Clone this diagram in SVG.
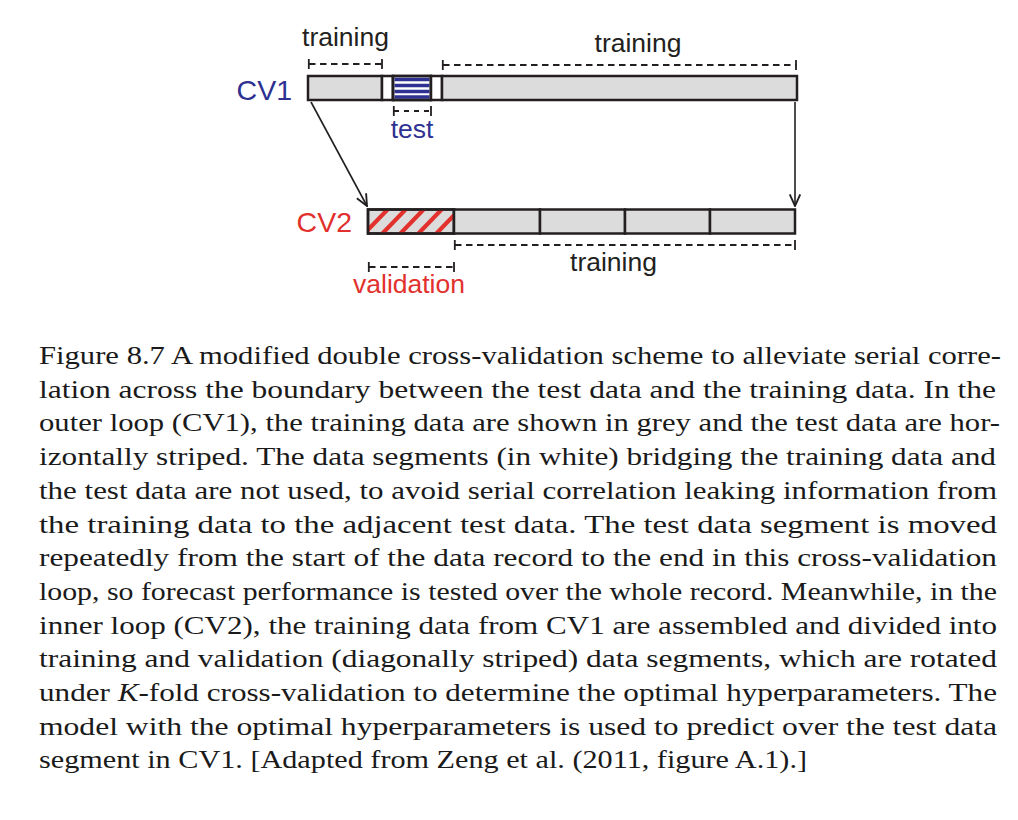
<svg xmlns="http://www.w3.org/2000/svg" width="1018" height="820" viewBox="0 0 1018 820">
<style>
.bar{fill:#dcdcdc;stroke:#231f20;stroke-width:2.5}
.white{fill:#ffffff;stroke:#231f20;stroke-width:2.5}
.lbl{font-family:"Liberation Sans",Arial,Helvetica,sans-serif;font-size:26.5px;fill:#231f20}
.big{font-family:"Liberation Sans",Arial,Helvetica,sans-serif;font-size:28.5px}
.blue{fill:#2e3192}
.red{fill:#e2312d}
.dash{stroke:#231f20;stroke-width:1.8;stroke-dasharray:6.5 4.5;fill:none}
.tick{stroke:#231f20;stroke-width:1.8;fill:none}
.conn{stroke:#231f20;stroke-width:1.6;fill:none}
.cap{font-family:"Liberation Serif","Times New Roman",serif;font-size:25px;fill:#1a1a1a}
</style>
<defs>
<marker id="arr" markerUnits="userSpaceOnUse" markerWidth="14" markerHeight="14" viewBox="0 0 12 12" refX="11" refY="6" orient="auto">
<path d="M1,1.5 L11,6 L1,10.5" fill="none" stroke="#231f20" stroke-width="1.6"/>
</marker>
<clipPath id="valclip"><rect x="368" y="209.5" width="86" height="24"/></clipPath>
</defs>

<g id="connectors">
<line class="conn" x1="311" y1="102" x2="367" y2="206" marker-end="url(#arr)"/>
<line class="conn" x1="795" y1="102" x2="795" y2="206" marker-end="url(#arr)"/>
</g>

<g id="cv1">
<text class="big blue" x="292" y="100" text-anchor="end">CV1</text>
<rect class="bar" x="308" y="76" width="74" height="24"/>
<rect class="white" x="382" y="76" width="11" height="24"/>
<rect class="white" x="393" y="76" width="38" height="24"/>
<g stroke="#2e3192" stroke-width="3.3">
<line x1="394.5" y1="79.5" x2="429.5" y2="79.5"/>
<line x1="394.5" y1="85.5" x2="429.5" y2="85.5"/>
<line x1="394.5" y1="91.5" x2="429.5" y2="91.5"/>
<line x1="394.5" y1="97" x2="429.5" y2="97"/>
</g>
<rect x="393" y="76" width="38" height="24" fill="none" stroke="#231f20" stroke-width="2.5"/>
<rect class="white" x="431" y="76" width="11" height="24"/>
<rect class="bar" x="442" y="76" width="355" height="24"/>
</g>

<g id="cv1-training-left">
<text class="lbl" x="345.5" y="46" text-anchor="middle">training</text>
<line class="dash" x1="309" y1="64" x2="382" y2="64"/>
<line class="tick" x1="308.8" y1="59" x2="308.8" y2="69"/>
<line class="tick" x1="382" y1="59" x2="382" y2="69"/>
</g>

<g id="cv1-training-right">
<text class="lbl" x="638" y="52" text-anchor="middle">training</text>
<line class="dash" x1="443" y1="65" x2="796" y2="65"/>
<line class="tick" x1="442.8" y1="60" x2="442.8" y2="70"/>
<line class="tick" x1="796" y1="60" x2="796" y2="70"/>
</g>

<g id="cv1-test">
<line class="dash" x1="394" y1="111" x2="431" y2="111" style="stroke-dasharray:5 5"/>
<line class="tick" x1="393.8" y1="106" x2="393.8" y2="116"/>
<line class="tick" x1="431" y1="106" x2="431" y2="116"/>
<text class="lbl blue" x="412" y="138" text-anchor="middle">test</text>
</g>

<g id="cv2">
<text class="big red" x="352" y="232" text-anchor="end">CV2</text>
<rect class="bar" x="368" y="209.5" width="86" height="24"/>
<g clip-path="url(#valclip)" stroke="#e2312d" stroke-width="4.2">
<line x1="362" y1="236" x2="390" y2="207"/>
<line x1="380" y1="236" x2="408" y2="207"/>
<line x1="398" y1="236" x2="426" y2="207"/>
<line x1="416" y1="236" x2="444" y2="207"/>
<line x1="434" y1="236" x2="462" y2="207"/>
</g>
<rect x="368" y="209.5" width="86" height="24" fill="none" stroke="#231f20" stroke-width="2.5"/>
<rect class="bar" x="454" y="209.5" width="86" height="24"/>
<rect class="bar" x="540" y="209.5" width="85" height="24"/>
<rect class="bar" x="625" y="209.5" width="85" height="24"/>
<rect class="bar" x="710" y="209.5" width="85" height="24"/>
</g>

<g id="cv2-training">
<line class="dash" x1="455" y1="245" x2="795" y2="245"/>
<line class="tick" x1="454.8" y1="240" x2="454.8" y2="250"/>
<line class="tick" x1="795" y1="240" x2="795" y2="250"/>
<text class="lbl" x="613.5" y="271" text-anchor="middle">training</text>
</g>

<g id="cv2-validation">
<line class="dash" x1="369" y1="267" x2="454" y2="267"/>
<line class="tick" x1="368.8" y1="262" x2="368.8" y2="272"/>
<line class="tick" x1="454" y1="262" x2="454" y2="272"/>
<text class="lbl red" x="409" y="293" text-anchor="middle">validation</text>
</g>

<g id="caption" class="cap">
<text x="39" y="364" textLength="962" lengthAdjust="spacingAndGlyphs">Figure 8.7 A modified double cross-validation scheme to alleviate serial corre-</text>
<text x="39" y="397.7" textLength="957" lengthAdjust="spacingAndGlyphs">lation across the boundary between the test data and the training data. In the</text>
<text x="39" y="431.4" textLength="961" lengthAdjust="spacingAndGlyphs">outer loop (CV1), the training data are shown in grey and the test data are hor-</text>
<text x="39" y="465.1" textLength="957" lengthAdjust="spacingAndGlyphs">izontally striped. The data segments (in white) bridging the training data and</text>
<text x="39" y="498.8" textLength="958" lengthAdjust="spacingAndGlyphs">the test data are not used, to avoid serial correlation leaking information from</text>
<text x="39" y="532.5" textLength="958" lengthAdjust="spacingAndGlyphs">the training data to the adjacent test data. The test data segment is moved</text>
<text x="39" y="566.2" textLength="958" lengthAdjust="spacingAndGlyphs">repeatedly from the start of the data record to the end in this cross-validation</text>
<text x="39" y="599.9" textLength="958" lengthAdjust="spacingAndGlyphs">loop, so forecast performance is tested over the whole record. Meanwhile, in the</text>
<text x="39" y="633.6" textLength="958" lengthAdjust="spacingAndGlyphs">inner loop (CV2), the training data from CV1 are assembled and divided into</text>
<text x="39" y="667.3" textLength="958" lengthAdjust="spacingAndGlyphs">training and validation (diagonally striped) data segments, which are rotated</text>
<text x="39" y="701" textLength="958" lengthAdjust="spacingAndGlyphs">under <tspan font-style="italic">K</tspan>-fold cross-validation to determine the optimal hyperparameters. The</text>
<text x="39" y="734.7" textLength="958" lengthAdjust="spacingAndGlyphs">model with the optimal hyperparameters is used to predict over the test data</text>
<text x="39" y="768.4" textLength="768" lengthAdjust="spacingAndGlyphs">segment in CV1. [Adapted from Zeng et al. (2011, figure A.1).]</text>
</g>
</svg>
